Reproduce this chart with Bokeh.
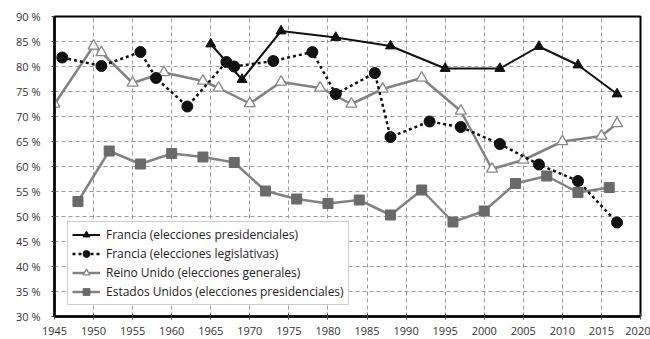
from bokeh.plotting import figure
from bokeh.models import FixedTicker, Legend, LegendItem, Range1d
from bokeh.embed import file_html
from bokeh.resources import INLINE

# ---- data ----
pres_years = [1965, 1969, 1974, 1981, 1988, 1995, 2002, 2007, 2012, 2017]
pres_vals = [84.5, 77.4, 87.1, 85.8, 84.1, 79.6, 79.6, 84.0, 80.3, 74.5]

leg_years = [1946, 1951, 1956, 1958, 1962, 1967, 1968, 1973, 1978, 1981, 1986, 1988,
             1993, 1997, 2002, 2007, 2012, 2017]
leg_vals = [81.8, 80.1, 82.9, 77.7, 72.0, 80.9, 80.0, 81.1, 82.9, 74.5, 78.7, 65.9,
            69.0, 67.9, 64.5, 60.4, 57.1, 48.8]

uk_years = [1945, 1950, 1951, 1955, 1959, 1964, 1966, 1970, 1974, 1979, 1983, 1987,
            1992, 1997, 2001, 2005, 2010, 2015, 2017]
uk_vals = [72.5, 84.1, 82.8, 76.7, 78.8, 77.1, 75.7, 72.6, 76.9, 75.7, 72.5, 75.5,
           77.7, 71.1, 59.5, 61.3, 65.0, 66.1, 68.6]

us_years = [1948, 1952, 1956, 1960, 1964, 1968, 1972, 1976, 1980, 1984, 1988, 1992,
            1996, 2000, 2004, 2008, 2012, 2016]
us_vals = [53.0, 63.1, 60.5, 62.6, 61.9, 60.8, 55.1, 53.5, 52.6, 53.3, 50.3, 55.3,
           48.9, 51.1, 56.6, 58.1, 54.8, 55.8]

x_ticks = [1945, 1950, 1955, 1960, 1965, 1970, 1975, 1980, 1985, 1990, 1995, 2000,
           2005, 2010, 2015, 2020]
y_ticks = [30, 35, 40, 45, 50, 55, 60, 65, 70, 75, 80, 85, 90]
y_labels = [f"{v} %" for v in y_ticks]

labels = ["Francia (elecciones presidenciales)",
          "Francia (elecciones legislativas)",
          "Reino Unido (elecciones generales)",
          "Estados Unidos (elecciones presidenciales)"]

FONT = "Open Sans"

p = figure(width=650, height=339, output_backend="svg", toolbar_location=None,
           x_range=Range1d(1945, 2020), y_range=Range1d(30, 90),
           min_border_left=54, min_border_right=10, min_border_top=16, min_border_bottom=23)

p.outline_line_color = "black"
p.outline_line_width = 2
p.background_fill_color = "white"
p.border_fill_color = "white"

for ax in (p.xaxis[0], p.yaxis[0]):
    ax.axis_line_color = "black"
    ax.axis_line_width = 2.5
    ax.major_tick_line_color = "#444444"
    ax.minor_tick_line_color = None
    ax.major_label_text_font = FONT
    ax.major_label_text_font_size = "11px"
    ax.major_label_text_color = "#333333"

p.xaxis.ticker = FixedTicker(ticks=x_ticks)
p.yaxis.ticker = FixedTicker(ticks=y_ticks)
p.yaxis.major_label_overrides = dict(zip(y_ticks, y_labels))
p.xaxis.major_tick_in = 3
p.xaxis.major_tick_out = 3
p.xaxis.major_label_standoff = 7
p.yaxis.major_tick_in = 0
p.yaxis.major_tick_out = 3
p.yaxis.major_label_standoff = 11

p.xgrid.grid_line_color = "#9a9a9a"
p.ygrid.grid_line_color = "#9a9a9a"
p.xgrid.grid_line_dash = "4 3"
p.ygrid.grid_line_dash = "4 3"
p.xgrid.grid_line_width = 1
p.ygrid.grid_line_width = 1

GRAY_LINE = "#828282"

# Estados Unidos
us_l = p.line(us_years, us_vals, line_color=GRAY_LINE, line_width=2.5)
us_m = p.scatter(us_years, us_vals, marker="square", size=10,
                 fill_color="#6a6a6a", line_color="#6a6a6a")

# Reino Unido
uk_l = p.line(uk_years, uk_vals, line_color=GRAY_LINE, line_width=2.5)
uk_m = p.scatter(uk_years, uk_vals, marker="triangle", size=11,
                 fill_color="white", line_color="#888888", line_width=1.3)

# Francia legislativas
leg_l = p.line(leg_years, leg_vals, line_color="#111111", line_width=2.5, line_dash="3 3")
leg_m = p.scatter(leg_years, leg_vals, marker="circle", size=11,
                  fill_color="#111111", line_color="#111111")

# Francia presidenciales
pres_l = p.line(pres_years, pres_vals, line_color="#111111", line_width=2)
pres_m = p.scatter(pres_years, pres_vals, marker="triangle", size=10,
                   fill_color="#111111", line_color="#111111")

legend = Legend(items=[
    LegendItem(label=labels[0], renderers=[pres_l, pres_m]),
    LegendItem(label=labels[1], renderers=[leg_l, leg_m]),
    LegendItem(label=labels[2], renderers=[uk_l, uk_m]),
    LegendItem(label=labels[3], renderers=[us_l, us_m]),
])
legend.location = (13, 11)
legend.label_text_font = FONT
legend.label_text_font_size = "12px"
legend.label_text_color = "#222222"
legend.glyph_width = 28
legend.glyph_height = 17
legend.label_height = 17
legend.spacing = 2
legend.padding = 4
legend.margin = 0
legend.label_standoff = 6
legend.border_line_color = "#999999"
legend.border_line_width = 1
legend.background_fill_alpha = 1
p.add_layout(legend, "center")

open("out.html", "w").write(file_html(p, INLINE))
